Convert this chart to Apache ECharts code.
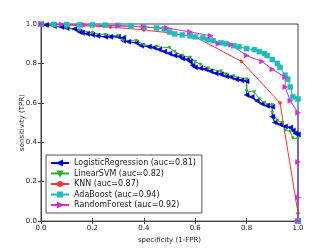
<!DOCTYPE html>
<html><head><meta charset="utf-8">
<script src="https://cdn.jsdelivr.net/npm/echarts@6/dist/echarts.min.js"></script>
<style>html,body{margin:0;padding:0;background:#fff}#c{width:332px;height:249px}</style>
</head><body><div id="c"></div>
<script>
var seriesNames = ['LogisticRegression (auc=0.81)','LinearSVM (auc=0.82)','KNN (auc=0.87)','AdaBoost (auc=0.94)','RandomForest (auc=0.92)'];
var xTicks = [0,0.2,0.4,0.6,0.8,1.0];
var yTicks = [0,0.2,0.4,0.6,0.8,1.0];

var lrX = [0,0.02,0.05,0.08,0.1,0.13,0.15,0.16,0.18,0.2,0.22,0.25,0.27,0.3,0.32,0.32,0.34,0.37,0.39,0.42,0.44,0.46,0.48,0.5,0.52,0.54,0.55,0.57,0.58,0.59,0.6,0.62,0.64,0.66,0.68,0.7,0.72,0.74,0.76,0.78,0.8,0.8,0.82,0.84,0.86,0.88,0.9,0.9,0.91,0.93,0.95,0.97,0.98,0.99,1.0,1.0];
var lrY = [1,0.995,0.99,0.985,0.98,0.975,0.96,0.955,0.95,0.945,0.94,0.935,0.935,0.935,0.93,0.915,0.91,0.905,0.89,0.885,0.88,0.87,0.86,0.85,0.84,0.835,0.825,0.82,0.81,0.79,0.78,0.775,0.77,0.76,0.75,0.745,0.735,0.73,0.72,0.715,0.71,0.64,0.63,0.61,0.595,0.585,0.58,0.53,0.5,0.49,0.48,0.475,0.46,0.445,0.44,0];

var svmX = [0,0.05,0.1,0.15,0.2,0.25,0.3,0.32,0.37,0.4,0.45,0.5,0.52,0.55,0.58,0.6,0.62,0.65,0.7,0.72,0.75,0.8,0.8,0.83,0.85,0.87,0.9,0.9,0.92,0.94,0.95,0.97,0.98,1.0,1.0];
var svmY = [1,0.99,0.98,0.97,0.955,0.945,0.94,0.915,0.915,0.895,0.885,0.88,0.86,0.84,0.83,0.81,0.795,0.775,0.76,0.745,0.735,0.72,0.66,0.655,0.62,0.6,0.59,0.55,0.51,0.5,0.46,0.455,0.42,0.42,0];

var knnX = [0,0.1,0.27,0.4,0.5,0.6,0.78,0.93,1.0];
var knnY = [1,0.995,0.985,0.97,0.955,0.935,0.81,0.6,0.04];

var adaX = [0,0.05,0.1,0.15,0.2,0.25,0.3,0.35,0.4,0.45,0.48,0.5,0.52,0.55,0.58,0.6,0.63,0.65,0.67,0.7,0.72,0.75,0.77,0.8,0.83,0.85,0.87,0.88,0.9,0.92,0.93,0.95,0.96,0.97,0.98,1.0,1.0];
var adaY = [1,0.998,0.997,0.996,0.995,0.994,0.993,0.99,0.985,0.98,0.975,0.96,0.95,0.945,0.94,0.935,0.93,0.92,0.915,0.905,0.9,0.89,0.885,0.875,0.87,0.86,0.85,0.84,0.82,0.8,0.78,0.74,0.72,0.68,0.63,0.62,0];

var rfX = [0,0.08,0.17,0.3,0.4,0.49,0.58,0.66,0.69,0.74,0.8,0.86,0.9,0.95,0.95,0.97,1.0,1.0,1.0,1.0];
var rfY = [1,0.998,0.995,0.99,0.985,0.98,0.96,0.94,0.9,0.895,0.84,0.81,0.77,0.73,0.68,0.61,0.55,0.3,0.12,0];

function pairs(xs, ys){ return xs.map(function(x,i){return [x, ys[i]];}); }

var colors = ['#0000cc','#33aa33','#ff3333','#22bbbb','#cc33cc'];
var chart = echarts.init(document.getElementById('c'), null, {renderer:'canvas'});
var font = 'DejaVu Sans';
function mk(name, data, color, symbol, size, rot, lw){
  return {name:name, type:'line', data:data, symbol:symbol, symbolSize:size, symbolRotate:rot,
    showSymbol:true, lineStyle:{color:color, width:lw}, itemStyle:{color:color, borderColor:color, borderWidth:0.5},
    animation:false, z: 2};
}
chart.setOption({
  animation:false,
  color: colors,
  grid:{left:41, right:34, top:24, bottom:25, show:true, borderColor:'#444', borderWidth:1},
  xAxis:[{type:'value', min:0, max:1, interval:0.2, name:'specificity (1-FPR)', nameLocation:'middle', nameGap:15,
    nameTextStyle:{fontFamily:font, fontSize:7, color:'#222'},
    axisLine:{show:true, lineStyle:{color:'#444'}}, axisTick:{show:true, inside:true, length:3, lineStyle:{color:'#444'}},
    splitLine:{show:false}, axisLabel:{fontFamily:font, fontSize:7, color:'#222', margin:4, formatter:function(v){return v.toFixed(1);}}},
    {type:'value', min:0, max:1, interval:0.2, position:'top', axisLine:{show:false}, axisTick:{show:true, inside:true, length:3, lineStyle:{color:'#444'}}, axisLabel:{show:false}, splitLine:{show:false}}],
  yAxis:[{type:'value', min:0, max:1, interval:0.2, name:'sensitivity (TPR)', nameLocation:'middle', nameGap:15, nameMoveOverlap:false,
    nameTextStyle:{fontFamily:font, fontSize:7, color:'#222'},
    axisLine:{show:true, lineStyle:{color:'#444'}}, axisTick:{show:true, inside:true, length:3, lineStyle:{color:'#444'}},
    splitLine:{show:false}, axisLabel:{fontFamily:font, fontSize:7, color:'#222', margin:4, formatter:function(v){return v.toFixed(1);}}},
    {type:'value', min:0, max:1, interval:0.2, position:'right', axisLine:{show:false}, axisTick:{show:true, inside:true, length:3, lineStyle:{color:'#444'}}, axisLabel:{show:false}, splitLine:{show:false}}],
  legend:{orient:'vertical', left:46, top:155, padding:[4,6,4,4], itemGap:2.5, itemWidth:18, itemHeight:5,
    borderColor:'#555', borderWidth:1, backgroundColor:'#fff',
    textStyle:{fontFamily:font, fontSize:8, color:'#222'}, data:seriesNames},
  series:[
    mk(seriesNames[0], pairs(lrX,lrY), colors[0], 'triangle', 5, 90, 1.2),
    mk(seriesNames[1], pairs(svmX,svmY), colors[1], 'triangle', 3, 180, 1),
    mk(seriesNames[2], pairs(knnX,knnY), colors[2], 'circle', 3, 0, 1),
    mk(seriesNames[3], pairs(adaX,adaY), colors[3], 'rect', 5, 0, 1),
    mk(seriesNames[4], pairs(rfX,rfY), colors[4], 'triangle', 5, -90, 1)
  ]
});
</script></body></html>
